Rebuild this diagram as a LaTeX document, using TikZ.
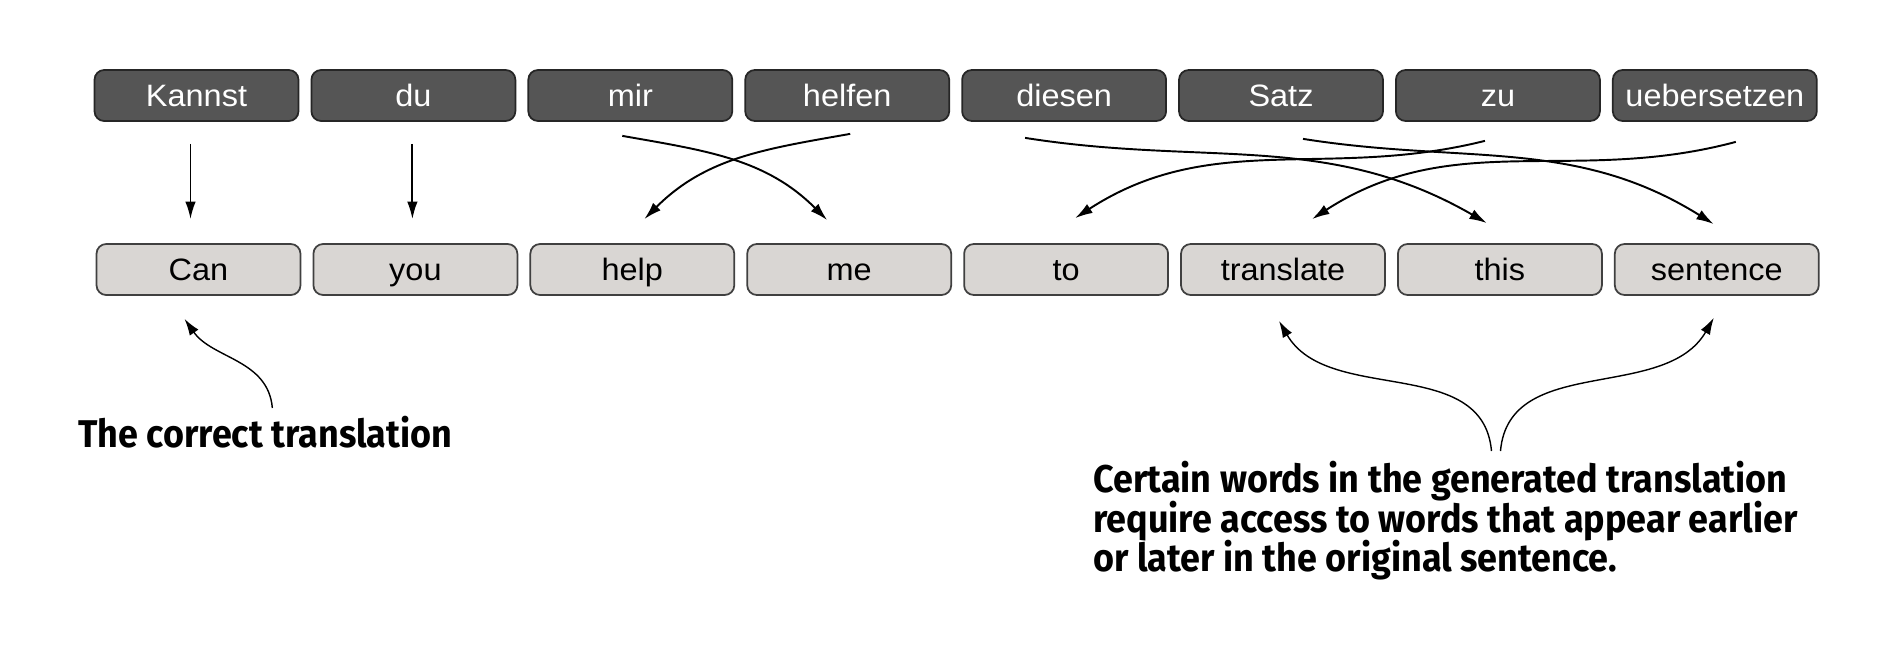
\documentclass[tikz,border=0pt]{standalone}
\usepackage{fontspec}
\setmainfont{Liberation Sans}
\newfontfamily\boxfont[FakeStretch=1.05]{Liberation Sans}
\newfontfamily\notefont[FakeStretch=0.93]{Fira Sans}
\usetikzlibrary{arrows.meta,positioning}
\definecolor{germanfill}{HTML}{555555}
\definecolor{englishfill}{HTML}{D9D6D3}

\begin{document}
\begin{tikzpicture}[x=0.02cm, y=0.02cm,
  german/.style={draw=black!85, fill=germanfill, text=white, rounded corners=5.5pt, line width=1pt,
    minimum width=4.08cm, minimum height=1.02cm, text height=14pt, text depth=1pt,
    font=\boxfont\fontsize{17.6}{21}\selectfont},
  english/.style={german, draw=black!75, fill=englishfill, text=black},
  arr/.style={-{Latex[length=10pt,width=6pt]}, line width=1.1pt},
  note/.style={font={\notefont\bfseries\fontsize{22}{22.5}\selectfont\lineskiplimit=-20pt},
    inner sep=0pt, align=left},
  notearr/.style={-{Latex[length=9.5pt,width=6pt]}, line width=0.8pt}]
\useasboundingbox (0,0) rectangle (1896,-646);

\node[german] (de-kannst) at (196.5,-95.5) {Kannst};
\node[german] (de-du) at (413.4,-95.5) {du};
\node[german] (de-mir) at (630.3,-95.5) {mir};
\node[german] (de-helfen) at (847.2,-95.5) {helfen};
\node[german] (de-diesen) at (1064.1,-95.5) {diesen};
\node[german] (de-satz) at (1281,-95.5) {Satz};
\node[german] (de-zu) at (1497.9,-95.5) {zu};
\node[german] (de-uebersetzen) at (1714.8,-95.5) {uebersetzen};

\node[english] (en-can) at (198.5,-269.5) {Can};
\node[english] (en-you) at (415.4,-269.5) {you};
\node[english] (en-help) at (632.3,-269.5) {help};
\node[english] (en-me) at (849.2,-269.5) {me};
\node[english] (en-to) at (1066.1,-269.5) {to};
\node[english] (en-translate) at (1283,-269.5) {translate};
\node[english] (en-this) at (1499.9,-269.5) {this};
\node[english] (en-sentence) at (1716.8,-269.5) {sentence};

\draw[arr] ([shift={(-6,-22)}]de-kannst.south) -- ([shift={(-8,24)}]en-can.north);
\draw[arr] ([shift={(-1,-22)}]de-du.south) -- ([shift={(-3,24)}]en-you.north);
\draw[arr] ([shift={(-8,-14)}]de-mir.south) to[out=-10,in=135] ([shift={(-22,23)}]en-me.north);
\draw[arr] ([shift={(3,-12)}]de-helfen.south) to[out=190,in=45] ([shift={(12,24)}]en-help.north);
\draw[arr] ([shift={(-39,-16)}]de-diesen.south) to[out=-9,in=150] ([shift={(-13,20)}]en-this.north);
\draw[arr] ([shift={(22,-17)}]de-satz.south) to[out=-9,in=148] ([shift={(-3,19)}]en-sentence.north);
\draw[arr] ([shift={(-13,-19)}]de-zu.south) to[out=194,in=33] ([shift={(9,25)}]en-to.north);
\draw[arr] ([shift={(21,-20)}]de-uebersetzen.south) to[out=195,in=33] ([shift={(29,24)}]en-translate.north);

\node[note, anchor=north west] (correct) at (78,-416) {The correct translation};
\node[note, anchor=north west] (access) at (1093,-461) {Certain words in the generated translation\\require access to words that appear earlier\\or later in the original sentence.};

\draw[notearr] ([shift={(7,8)}]correct.north) to[out=95,in=-55] ([shift={(-14,-23)}]en-can.south);
\draw[notearr] ([shift={(46,10)}]access.north) to[out=95,in=-60] ([shift={(-4,-25)}]en-translate.south);
\draw[notearr] ([shift={(55,10)}]access.north) to[out=85,in=-120] ([shift={(-3,-22)}]en-sentence.south);
\end{tikzpicture}
\end{document}
